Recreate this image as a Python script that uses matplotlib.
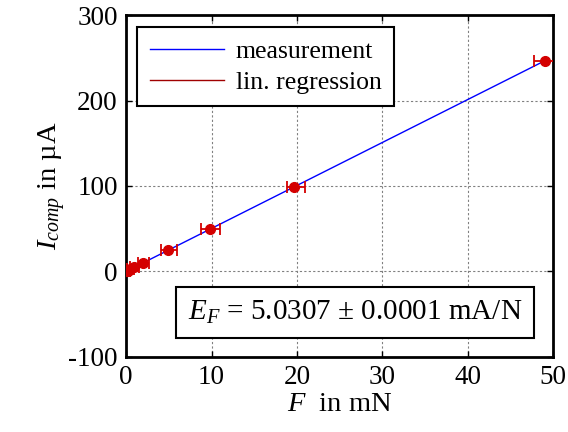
import matplotlib
matplotlib.use("Agg")
import matplotlib.pyplot as plt
from matplotlib.lines import Line2D
import numpy as np

plt.rcParams['font.family'] = ['Liberation Serif', 'DejaVu Serif']
plt.rcParams['mathtext.fontset'] = 'custom'
plt.rcParams['mathtext.rm'] = 'Liberation Serif'
plt.rcParams['mathtext.it'] = 'Liberation Serif:italic'

# data
force_mN = [0.0098, 0.0196, 0.049, 0.098, 0.196, 0.49, 0.981, 1.96, 4.9, 9.81, 19.6, 49.0]
current_uA = [0.05, 0.10, 0.25, 0.49, 0.99, 2.47, 4.93, 9.87, 24.7, 49.3, 98.7, 246.5]
xerr_low = [0.3, 0.3, 0.3, 0.3, 0.3, 0.4, 0.5, 0.6, 0.8, 1.0, 0.8, 1.3]
xerr_high = [0.3, 0.3, 0.3, 0.3, 0.3, 0.4, 0.5, 0.7, 1.1, 1.2, 1.4, 1.3]
slope = 5.0307
fit_x = [0.0, 49.0]

xticks = [0, 10, 20, 30, 40, 50]
yticks = [-100, 0, 100, 200, 300]

fig = plt.figure(figsize=(5.68, 4.32), dpi=100)
ax = fig.add_axes([0.222, 0.174, 0.752, 0.791])

ax.plot(fit_x, [slope * x for x in fit_x], color='#0000ff', lw=1.0, zorder=2)
ax.errorbar(force_mN, current_uA, xerr=[xerr_low, xerr_high], fmt='o', color='#d40000',
            ecolor='#d40000', markersize=7, elinewidth=1.3, capsize=4, capthick=1.3, zorder=3)

ax.set_xlim(0, 50)
ax.set_ylim(-100, 300)
ax.set_xticks(xticks)
ax.set_yticks(yticks)
ax.set_yticklabels([str(v) for v in yticks])
ax.tick_params(direction='in', top=True, right=True, labelsize=19.5, length=4, width=1, pad=6)
for s in ax.spines.values():
    s.set_linewidth(2)
ax.grid(True, color='#808080', linestyle=(0, (2, 2)), lw=0.8)

ax.set_xlabel(r'$F$  in mN', fontsize=20.5, labelpad=1)
ax.set_ylabel(r'$I_{comp}$ in µA', fontsize=20.5, labelpad=0)

handles = [Line2D([], [], color='#0000ff', lw=1.0),
           Line2D([], [], color='#a00000', lw=1.0)]
leg = ax.legend(handles, ['measurement', 'lin. regression'], loc='upper left',
                bbox_to_anchor=(0.025, 0.965), fontsize=18.5, fancybox=False,
                framealpha=1, edgecolor='black', handlelength=2.9, borderpad=0.5,
                labelspacing=0.3, handletextpad=0.45, borderaxespad=0)
leg.get_frame().set_linewidth(1.5)

ax.text(0.145, 0.13, r'$E_F$ = 5.0307 ± 0.0001 mA/N', transform=ax.transAxes,
        fontsize=21, va='center', ha='left',
        bbox=dict(boxstyle='square,pad=0.4', fc='white', ec='black', lw=1.5))

fig.savefig('out.png', dpi=100)
